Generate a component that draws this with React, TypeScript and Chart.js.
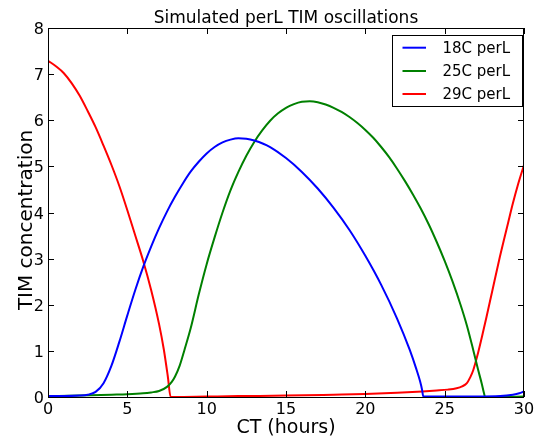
import { useEffect, useRef } from 'react';
import { Chart, registerables } from 'chart.js';

Chart.register(...registerables);

const chartTitle = 'Simulated perL TIM oscillations';
const xTitle = 'CT (hours)';
const yTitle = 'TIM concentration';
const xTicks = [0, 5, 10, 15, 20, 25, 30];
const yTicks = [0, 1, 2, 3, 4, 5, 6, 7, 8];
const seriesLabels = ['18C perL', '25C perL', '29C perL'];
const seriesColors = ['#0000ff', '#008000', '#ff0000'];

const x18 = [0, 1, 2, 2.5, 3, 3.5, 4, 4.5, 5, 5.5, 6, 6.5, 7, 7.5, 8, 8.5, 9, 9.5, 10, 10.5, 11, 11.5, 12, 12.5, 13, 14, 15, 16, 17, 18, 19, 20, 21, 22, 22.8, 23.2, 23.45, 23.58, 23.65, 25, 27, 28.5, 29.3, 29.7, 30];
const y18 = [0.02, 0.02, 0.03, 0.05, 0.11, 0.3, 0.68, 1.2, 1.77, 2.32, 2.82, 3.26, 3.66, 4.02, 4.34, 4.63, 4.89, 5.1, 5.28, 5.42, 5.52, 5.58, 5.61, 5.6, 5.56, 5.42, 5.18, 4.88, 4.52, 4.1, 3.62, 3.06, 2.43, 1.7, 1.02, 0.62, 0.34, 0.15, 0.01, 0.01, 0.01, 0.02, 0.05, 0.08, 0.12];

const x25 = [0, 2, 4, 5, 6, 6.5, 7, 7.5, 7.8, 8.0, 8.3, 8.6, 9, 9.5, 10, 10.5, 11, 11.5, 12, 12.5, 13, 13.5, 14, 14.5, 15, 15.5, 16, 16.5, 17, 17.5, 18, 18.5, 19, 19.5, 20, 20.5, 21, 21.5, 22, 22.5, 23, 23.5, 24, 24.5, 25, 25.5, 26, 26.4, 26.8, 27.1, 27.33, 27.48, 27.55, 28.5, 30];
const y25 = [0.02, 0.03, 0.05, 0.06, 0.08, 0.1, 0.13, 0.22, 0.33, 0.44, 0.68, 1.02, 1.5, 2.22, 2.88, 3.46, 4.0, 4.48, 4.88, 5.23, 5.53, 5.78, 5.99, 6.15, 6.27, 6.35, 6.4, 6.41, 6.39, 6.34, 6.27, 6.18, 6.07, 5.94, 5.79, 5.62, 5.42, 5.2, 4.95, 4.68, 4.39, 4.08, 3.74, 3.36, 2.95, 2.5, 2.0, 1.55, 1.02, 0.6, 0.3, 0.08, 0.0, 0.0, 0.01];

const x29 = [0, 0.5, 1, 1.5, 2, 2.5, 3, 3.5, 4, 4.5, 5, 5.5, 6, 6.5, 7, 7.3, 7.55, 7.73, 8, 10, 12, 15, 18, 20, 22, 23.6, 24.5, 25.2, 25.75, 26.1, 26.4, 26.6, 26.8, 27.1, 27.4, 27.64, 28.0, 28.48, 29.0, 29.3, 29.6, 30];
const y29 = [7.29, 7.17, 7.02, 6.8, 6.53, 6.2, 5.85, 5.45, 5.03, 4.57, 4.05, 3.5, 2.95, 2.32, 1.58, 1.03, 0.45, 0.0, 0.0, 0.01, 0.02, 0.03, 0.05, 0.065, 0.09, 0.12, 0.14, 0.16, 0.19, 0.23, 0.3, 0.42, 0.58, 0.95, 1.38, 1.74, 2.3, 3.04, 3.78, 4.2, 4.58, 5.03];

const FONT = '"DejaVu Sans", "Bitstream Vera Sans", sans-serif';

const framePlugin = {
  id: 'framePlugin',
  afterDraw(chart: any) {
    const ctx = chart.ctx;
    const { left, right, top, bottom } = chart.chartArea;
    const xs = chart.scales.x;
    const ys = chart.scales.y;
    ctx.save();
    ctx.strokeStyle = '#000';
    ctx.lineWidth = 1;
    ctx.strokeRect(left + 0.5, top + 0.5, right - left - 1, bottom - top);
    // inward ticks
    ctx.beginPath();
    xTicks.forEach((v) => {
      const px = Math.round(xs.getPixelForValue(v)) + 0.5;
      ctx.moveTo(px, bottom);
      ctx.lineTo(px, bottom - 6);
      ctx.moveTo(px, top);
      ctx.lineTo(px, top + 6);
    });
    yTicks.forEach((v) => {
      const py = Math.round(ys.getPixelForValue(v)) + 0.5;
      ctx.moveTo(left, py);
      ctx.lineTo(left + 6, py);
      ctx.moveTo(right, py);
      ctx.lineTo(right - 6, py);
    });
    ctx.stroke();
    // tick labels
    ctx.fillStyle = '#000';
    ctx.font = `16px ${FONT}`;
    ctx.textAlign = 'center';
    ctx.textBaseline = 'alphabetic';
    xTicks.forEach((v) => {
      ctx.fillText(String(v), xs.getPixelForValue(v), bottom + 16.5);
    });
    ctx.textAlign = 'right';
    yTicks.forEach((v) => {
      ctx.fillText(String(v), left - 4, ys.getPixelForValue(v) + 6);
    });
    // title
    ctx.textAlign = 'center';
    ctx.font = `17px ${FONT}`;
    ctx.fillText(chartTitle, (left + right) / 2, 23);
    // axis titles
    ctx.font = `19px ${FONT}`;
    ctx.fillText(xTitle, (left + right) / 2, 433);
    ctx.save();
    ctx.font = `20px ${FONT}`;
    ctx.translate(31.5, 220);
    ctx.rotate(-Math.PI / 2);
    ctx.fillText(yTitle, 0, 0);
    ctx.restore();
    // legend
    const lx = 392.5, ly = 35.5, lw = 130, lh = 71;
    ctx.fillStyle = '#fff';
    ctx.fillRect(lx, ly, lw, lh);
    ctx.strokeStyle = '#000';
    ctx.lineWidth = 1;
    ctx.strokeRect(lx, ly, lw, lh);
    const rows = [47.7, 71, 94];
    ctx.font = `15px ${FONT}`;
    ctx.textAlign = 'left';
    ctx.textBaseline = 'middle';
    chart.data.datasets.forEach((ds: any, i: number) => {
      ctx.strokeStyle = ds.borderColor;
      ctx.lineWidth = 2;
      ctx.beginPath();
      ctx.moveTo(402.5, rows[i]);
      ctx.lineTo(426, rows[i]);
      ctx.stroke();
      ctx.fillStyle = '#000';
      ctx.fillText(ds.label, 442.5, rows[i] + 1);
    });
    ctx.restore();
  },
};

function pts(xs: number[], ys: number[]) {
  return xs.map((x, i) => ({ x, y: ys[i] }));
}

export default function App() {
  const ref = useRef<HTMLCanvasElement>(null);
  useEffect(() => {
    document.body.style.margin = '0';
    const canvas = ref.current!;
    const seriesX = [x18, x25, x29];
    const seriesY = [y18, y25, y29];
    const chart = new Chart(canvas, {
      type: 'line',
      data: {
        datasets: seriesLabels.map((label, i) => ({
          label,
          data: pts(seriesX[i], seriesY[i]),
          borderColor: seriesColors[i],
          backgroundColor: seriesColors[i],
          borderWidth: 2,
          pointRadius: 0,
          fill: false,
          cubicInterpolationMode: 'monotone' as const,
        })),
      },
      options: {
        responsive: false,
        animation: false,
        devicePixelRatio: 1,
        layout: { padding: { left: 48, right: 10, top: 28, bottom: 42 } },
        scales: {
          x: { type: 'linear', min: 0, max: 30, display: false },
          y: { type: 'linear', min: 0, max: 8, display: false },
        },
        plugins: {
          legend: { display: false },
          tooltip: { enabled: false },
          title: { display: false },
        },
      },
      plugins: [framePlugin],
    });
    return () => chart.destroy();
  }, []);
  return (
    <div style={{ position: 'absolute', left: 0, top: 0, width: 534, height: 439, background: '#fff' }}>
      <canvas ref={ref} width={534} height={439} style={{ width: 534, height: 439 }} />
    </div>
  );
}
